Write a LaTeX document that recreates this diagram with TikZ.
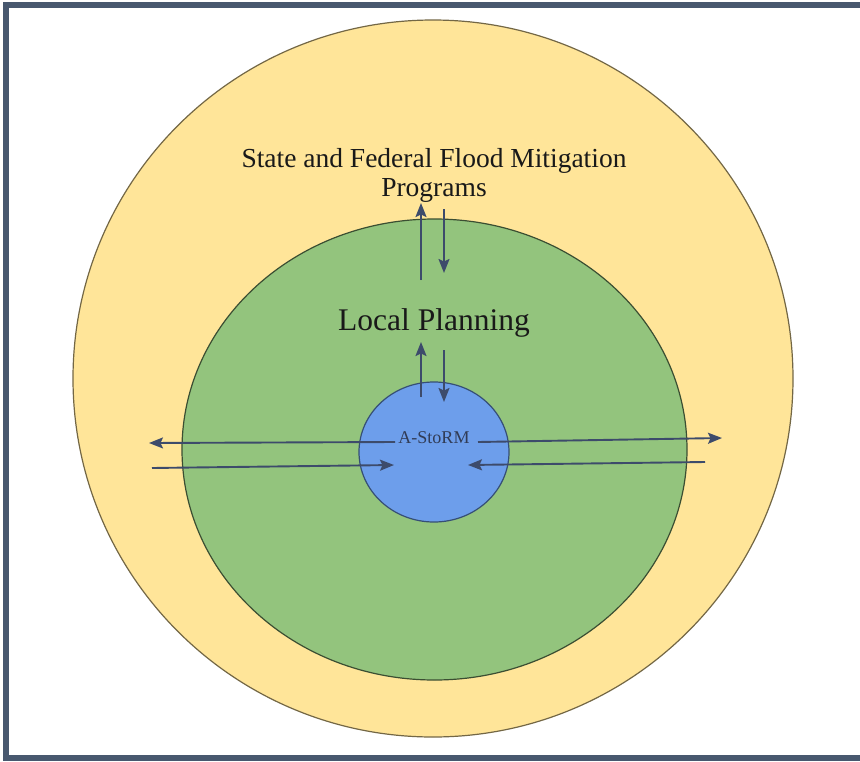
\documentclass[tikz,border=0pt]{standalone}
\usepackage{fontspec}
\setmainfont{Liberation Serif}
\usepackage{xcolor}
\usepackage{tikz}
\usetikzlibrary{shapes.geometric, arrows.meta}
\definecolor{ringyellow}{HTML}{FFE599}
\definecolor{ringgreen}{HTML}{93C47D}
\definecolor{ringblue}{HTML}{6D9EEB}
\definecolor{flowline}{HTML}{3D4B6B}
\definecolor{framegray}{HTML}{48586F}

\begin{document}
\begin{tikzpicture}[
  x=1pt, y=-1pt,
  ring/.style={ellipse, draw, inner sep=0pt, line width=1.2pt},
  label/.style={inner sep=0pt, align=center, text=black!90},
  flow/.style={-{Stealth[length=14pt, width=11pt, inset=2.5pt]}, line width=1.9pt, draw=flowline, fill=flowline}
]

% Frame
\clip (0,0) rectangle (860,761);
\draw[framegray, line width=6pt] (5.5,5) rectangle (880,758);

% Rings
\node[ring, fill=ringyellow, draw=black!55!ringyellow, minimum width=720pt, minimum height=717pt] (state) at (433,378.5) {};
\node[ring, fill=ringgreen, draw=black!60!ringgreen, minimum width=505pt, minimum height=461pt] (local) at (434.5,449.5) {};
\node[ring, fill=ringblue, draw=black!50!ringblue, minimum width=150pt, minimum height=140pt] (astorm) at (434,452) {};

% Labels
\node[label, font=\fontsize{27.5}{29}\selectfont] (statelbl) at (434,175) {State and Federal Flood Mitigation\\Programs};
\node[label, anchor=base, font=\fontsize{31.5}{34}\selectfont] (locallbl) at (434,330) {Local Planning};
\node[label, anchor=base, font=\fontsize{18}{20}\selectfont, text=flowline!80!black] (astormlbl) at (434,443) {A-StoRM};

% Arrow ends
\coordinate (upa) at (421,280);   \coordinate (upb) at (421,203);
\coordinate (dna) at (444,209);   \coordinate (dnb) at (444,273);
\coordinate (upc) at (421,397);   \coordinate (upd) at (421,342);
\coordinate (dnc) at (444,350);   \coordinate (dnd) at (444,402);
\coordinate (lfa) at (395,442);   \coordinate (lfb) at (149,443);
\coordinate (rta) at (152,468);   \coordinate (rtb) at (394,465);
\coordinate (rtc) at (478,442);   \coordinate (rtd) at (722,438);
\coordinate (lfc) at (705,462);   \coordinate (lfd) at (468,465);

% Arrows
\draw[flow] (upa) -- (upb);
\draw[flow] (dna) -- (dnb);
\draw[flow] (upc) -- (upd);
\draw[flow] (dnc) -- (dnd);
\draw[flow] (lfa) -- (lfb);
\draw[flow] (rta) -- (rtb);
\draw[flow] (rtc) -- (rtd);
\draw[flow] (lfc) -- (lfd);

\end{tikzpicture}
\end{document}
